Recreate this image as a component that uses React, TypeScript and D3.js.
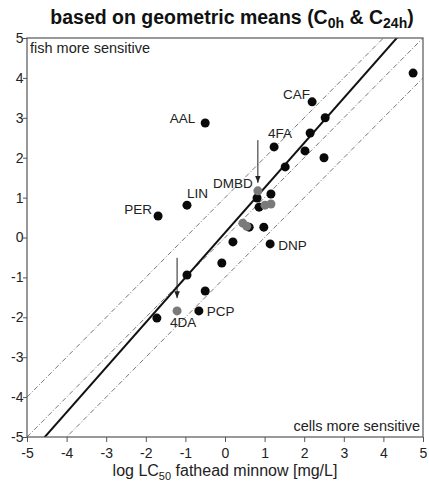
import React, { useRef, useEffect } from 'react';
import * as d3 from 'd3';

// log LC50 fathead minnow (x) vs. cell line value (y)
const blackX = [4.75, 2.2, 2.53, 2.15, 1.24, 2.02, 2.5, 1.52, -0.5, 1.16, 0.81, 0.86, -0.96, -1.69, 0.61, 0.98, 1.14, 0.2, -0.08, -0.96, -0.5, -0.66, -1.72];
const blackY = [4.12, 3.4, 3.0, 2.62, 2.27, 2.17, 2.0, 1.77, 2.87, 1.09, 0.99, 0.76, 0.81, 0.54, 0.26, 0.26, -0.16, -0.11, -0.64, -0.94, -1.34, -1.84, -2.02];
const grayX = [0.83, 1.01, 1.16, 0.45, 0.55, -1.21];
const grayY = [1.17, 0.81, 0.84, 0.36, 0.28, -1.84];

const labelNames = ['AAL', 'CAF', '4FA', 'DMBD', 'LIN', 'PER', 'DNP', 'PCP', '4DA'];
const labelX = [-0.5, 2.2, 1.24, 0.83, -0.96, -1.69, 1.14, -0.66, -1.21];
const labelY = [2.87, 3.4, 2.27, 1.17, 0.81, 0.54, -0.16, -1.84, -1.84];

// arrows: x, from y, to y
const arrowX = [0.83, -1.21];
const arrowFrom = [2.44, -0.51];
const arrowTo = [1.37, -1.52];

const ticks = [-5, -4, -3, -2, -1, 0, 1, 2, 3, 4, 5];
const fitSlope = 1.125;
const fitIntercept = 0.12;
const offsetLines = [1, 0, -1];

// label placement (px)
const labelStyle: Record<string, { dx: number; dy: number; anchor: string }> = {
  AAL: { dx: -10, dy: 0, anchor: 'end' },
  CAF: { dx: -2, dy: -3, anchor: 'end' },
  '4FA': { dx: -6, dy: -9, anchor: 'start' },
  DMBD: { dx: -5, dy: -3, anchor: 'end' },
  LIN: { dx: 0, dy: -7, anchor: 'start' },
  PER: { dx: -6, dy: -2, anchor: 'end' },
  DNP: { dx: 8, dy: 6, anchor: 'start' },
  PCP: { dx: 8, dy: 5, anchor: 'start' },
  '4DA': { dx: -7, dy: 16, anchor: 'start' },
};

const W = 429;
const H = 485;
const margin = { top: 38, right: 6, bottom: 48, left: 27 };

const App = () => {
  const svgRef = useRef<SVGSVGElement>(null);

  useEffect(() => {
    const svg = d3.select(svgRef.current);
    svg.selectAll('*').remove();

    const x = d3.scaleLinear().domain([-5, 5]).range([margin.left, W - margin.right]);
    const y = d3.scaleLinear().domain([-5, 5]).range([H - margin.bottom, margin.top]);
    const font = 'Liberation Sans, Arial, sans-serif';

    const defs = svg.append('defs');
    defs.append('clipPath').attr('id', 'plot-clip')
      .append('rect')
      .attr('x', margin.left).attr('y', margin.top)
      .attr('width', W - margin.left - margin.right)
      .attr('height', H - margin.top - margin.bottom);
    defs.append('marker')
      .attr('id', 'arrowhead')
      .attr('viewBox', '0 0 10 10')
      .attr('refX', 10).attr('refY', 5)
      .attr('markerWidth', 7).attr('markerHeight', 7)
      .attr('orient', 'auto')
      .append('path')
      .attr('d', 'M0,1 L10,5 L0,9 Z')
      .attr('fill', '#222');

    // title
    const title = svg.append('text')
      .attr('x', 232).attr('y', 24)
      .attr('text-anchor', 'middle')
      .style('font-family', font)
      .style('font-size', '19.5px')
      .style('font-weight', 'bold')
      .attr('fill', '#111');
    title.append('tspan').text('based on geometric means (C');
    title.append('tspan').attr('dy', 4).style('font-size', '14px').text('0h');
    title.append('tspan').attr('dy', -4).text(' & C');
    title.append('tspan').attr('dy', 4).style('font-size', '14px').text('24h');
    title.append('tspan').attr('dy', -4).text(')');

    const plot = svg.append('g').attr('clip-path', 'url(#plot-clip)');

    // reference lines y = x + c
    offsetLines.forEach(c => {
      plot.append('line')
        .attr('x1', x(-5)).attr('y1', y(-5 + c))
        .attr('x2', x(5)).attr('y2', y(5 + c))
        .attr('stroke', '#555')
        .attr('stroke-width', 0.8)
        .attr('stroke-dasharray', '5,2,1,2');
    });

    // regression line
    plot.append('line')
      .attr('x1', x(-6)).attr('y1', y(fitSlope * -6 + fitIntercept))
      .attr('x2', x(6)).attr('y2', y(fitSlope * 6 + fitIntercept))
      .attr('stroke', '#111')
      .attr('stroke-width', 2);

    // points
    plot.selectAll('.pt-black')
      .data(d3.zip(blackX, blackY))
      .enter().append('circle')
      .attr('cx', d => x(d[0]))
      .attr('cy', d => y(d[1]))
      .attr('r', 4.5)
      .attr('fill', '#0a0a0a');

    plot.selectAll('.pt-gray')
      .data(d3.zip(grayX, grayY))
      .enter().append('circle')
      .attr('cx', d => x(d[0]))
      .attr('cy', d => y(d[1]))
      .attr('r', 4.5)
      .attr('fill', '#7a7a7a');

    // arrows
    arrowX.forEach((ax, i) => {
      svg.append('line')
        .attr('x1', x(ax)).attr('y1', y(arrowFrom[i]))
        .attr('x2', x(ax)).attr('y2', y(arrowTo[i]))
        .attr('stroke', '#222')
        .attr('stroke-width', 1)
        .attr('marker-end', 'url(#arrowhead)');
    });

    // compound labels
    labelNames.forEach((name, i) => {
      const s = labelStyle[name];
      svg.append('text')
        .attr('x', x(labelX[i]) + s.dx)
        .attr('y', y(labelY[i]) + s.dy)
        .attr('text-anchor', s.anchor)
        .style('font-family', font)
        .style('font-size', '13.5px')
        .attr('fill', '#222')
        .text(name);
    });

    // corner notes
    svg.append('text')
      .attr('x', x(-5) + 3).attr('y', y(5) + 15)
      .style('font-family', font).style('font-size', '14.5px')
      .attr('fill', '#222')
      .text('fish more sensitive');
    svg.append('text')
      .attr('x', x(5) - 3).attr('y', y(-5) - 6)
      .attr('text-anchor', 'end')
      .style('font-family', font).style('font-size', '14.5px')
      .attr('fill', '#222')
      .text('cells more sensitive');

    // frame
    svg.append('rect')
      .attr('x', margin.left).attr('y', margin.top)
      .attr('width', W - margin.left - margin.right)
      .attr('height', H - margin.top - margin.bottom)
      .attr('fill', 'none')
      .attr('stroke', '#555')
      .attr('stroke-width', 1.2);

    // axes (plain hyphen minus like the original)
    const fmt = (d: d3.NumberValue) => String(d);
    const xAxis = svg.append('g')
      .attr('transform', `translate(0,${H - margin.bottom})`)
      .call(d3.axisBottom(x).tickValues(ticks).tickSize(5).tickFormat(fmt));
    const yAxis = svg.append('g')
      .attr('transform', `translate(${margin.left},0)`)
      .call(d3.axisLeft(y).tickValues(ticks).tickSize(4).tickFormat(fmt));
    [xAxis, yAxis].forEach(ax => {
      ax.select('.domain').remove();
      ax.selectAll('line').attr('stroke', '#555');
      ax.selectAll('text')
        .style('font-family', font)
        .style('font-size', '14px')
        .attr('fill', '#222');
    });
    xAxis.selectAll('text').attr('dy', '0.9em');
    yAxis.selectAll('text').attr('dx', '0.25em');

    // x label
    const xl = svg.append('text')
      .attr('x', 225).attr('y', H - 9)
      .attr('text-anchor', 'middle')
      .style('font-family', font)
      .style('font-size', '16px')
      .attr('fill', '#222');
    xl.append('tspan').text('log LC');
    xl.append('tspan').attr('dy', 4).style('font-size', '11px').text('50');
    xl.append('tspan').attr('dy', -4).text(' fathead minnow [mg/L]');
  }, []);

  return (
    <svg
      ref={svgRef}
      width={W}
      height={H}
      style={{ position: 'absolute', left: 0, top: 0, background: '#fff' }}
    />
  );
};

export default App;
